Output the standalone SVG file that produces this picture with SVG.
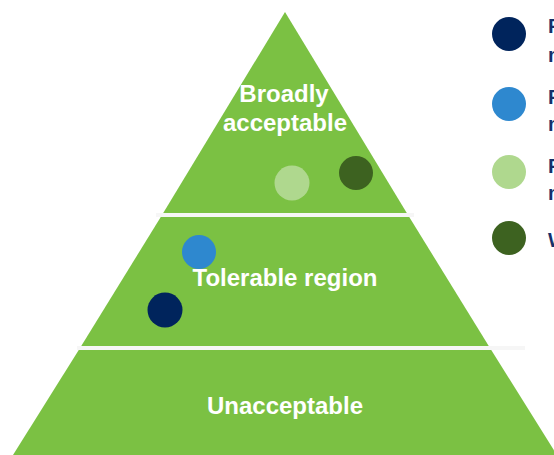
<svg xmlns="http://www.w3.org/2000/svg" width="554" height="455" viewBox="0 0 554 455">
  <style>
    .tier { fill: #7bc143; }
    .sep { fill: #f6f6f6; }
    .label { font-family: "Liberation Sans", Arial, sans-serif; font-weight: bold; font-size: 24px; fill: #ffffff; text-anchor: middle; }
    .legend { font-family: "Liberation Sans", Arial, sans-serif; font-weight: bold; font-size: 20px; fill: #14306b; }
    .navy { fill: #00245c; }
    .blue { fill: #2e88cf; }
    .pale { fill: #afd88e; }
    .dark { fill: #3d6220; }
  </style>

  <!-- pyramid tiers -->
  <g id="tier-broadly-acceptable">
    <polygon class="tier" points="285,12 162,215 408,215"/>
    <text class="label" x="284" y="102">Broadly</text>
    <text class="label" x="285" y="131">acceptable</text>
  </g>
  <g id="tier-tolerable">
    <polygon class="tier" points="162,215 408,215 490,348 80,348"/>
    <text class="label" x="285" y="286">Tolerable region</text>
  </g>
  <g id="tier-unacceptable">
    <polygon class="tier" points="80,348 490,348 557,455 13,455"/>
    <text class="label" x="285" y="414">Unacceptable</text>
  </g>

  <!-- band separators -->
  <g id="separators">
    <rect class="sep" x="156" y="213" width="258" height="4"/>
    <rect class="sep" x="77" y="346" width="448" height="4"/>
  </g>

  <!-- risk markers on the pyramid -->
  <g id="marker-pale"><circle class="pale" cx="292" cy="183" r="17.5"/></g>
  <g id="marker-dark"><circle class="dark" cx="356" cy="173" r="17"/></g>
  <g id="marker-blue"><circle class="blue" cx="199" cy="252" r="17"/></g>
  <g id="marker-navy"><circle class="navy" cx="165" cy="310" r="17.5"/></g>

  <!-- legend (runs past the right edge of the canvas) -->
  <g id="legend-navy">
    <circle class="navy" cx="509" cy="34" r="17"/>
    <text class="legend" x="548" y="33">Risk 1 before</text>
    <text class="legend" x="548" y="62">mitigation</text>
  </g>
  <g id="legend-blue">
    <circle class="blue" cx="509" cy="104" r="17"/>
    <text class="legend" x="548" y="104">Risk 2 before</text>
    <text class="legend" x="548" y="131">mitigation</text>
  </g>
  <g id="legend-pale">
    <circle class="pale" cx="509" cy="172" r="17"/>
    <text class="legend" x="548" y="173">Risk 1 after</text>
    <text class="legend" x="548" y="200">mitigation</text>
  </g>
  <g id="legend-dark">
    <circle class="dark" cx="509" cy="238" r="17"/>
    <text class="legend" x="548" y="247">With controls</text>
  </g>
</svg>
